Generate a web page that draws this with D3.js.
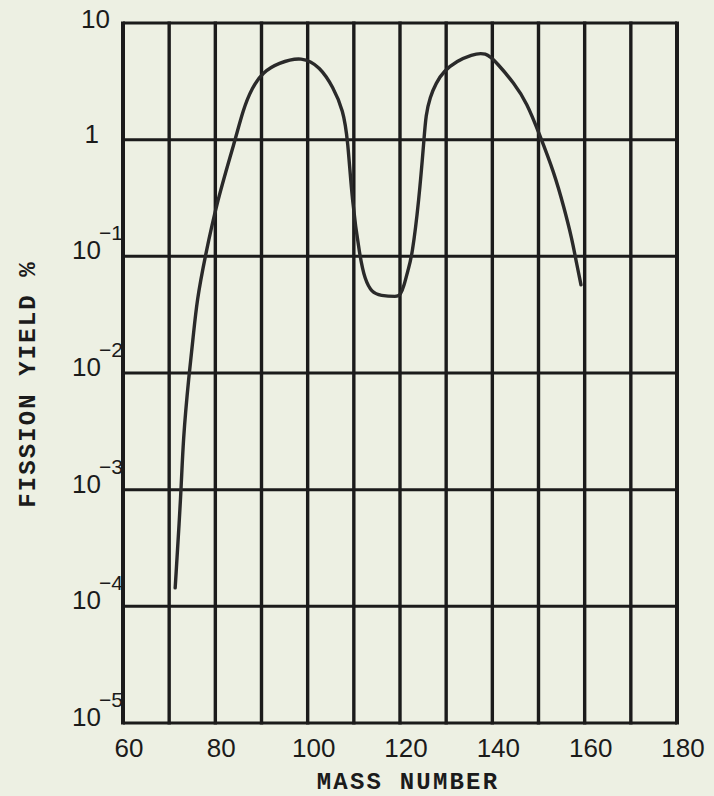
<!DOCTYPE html>
<html>
<head>
<meta charset="utf-8">
<script src="https://cdn.jsdelivr.net/npm/d3@7"></script>
<style>
  body { margin: 0; background: #edf0e3; }
  svg { display: block; }
</style>
</head>
<body>
<div id="container"></div>
<script>
/* DATA */
const massNumber = [71.3, 72.6, 73.0, 74.3, 75.2, 76.0, 77.8, 80.4, 84.3, 86.0, 87.9, 90.3, 93.6, 98.8,
  102.7, 105.5, 107.7, 108.7, 109.6, 111.3, 112.4, 113.9, 115.7, 119.4, 120.0, 120.9, 121.7,
  122.6, 124.1, 125.2, 125.6, 126.5, 127.8, 129.5, 132.4, 135.4, 138.6,
  141.0, 144.7, 147.5, 150.1, 153.4, 155.5, 157.3, 158.1, 159.2];
const fissionYield = [1.44e-4, 9.6e-4, 2.67e-3, 9.8e-3, 0.020, 0.042, 0.10, 0.30, 0.99, 1.80, 2.77, 3.80, 4.54, 5.2,
  4.2, 2.83, 1.79, 1.0, 0.30, 0.099, 0.063, 0.049, 0.046, 0.045, 0.046, 0.056, 0.076,
  0.099, 0.30, 1.0, 1.63, 2.32, 3.06, 3.88, 4.73, 5.35, 5.65,
  4.54, 3.06, 2.06, 1.14, 0.52, 0.265, 0.138, 0.093, 0.057];

const xGridValues = [60, 70, 80, 90, 100, 110, 120, 130, 140, 150, 160, 170, 180];
const xTickLabels = [60, 80, 100, 120, 140, 160, 180];
const yTickValues = [10, 1, 0.1, 0.01, 0.001, 0.0001, 0.00001];
const yTickBase = ["10", "1", "10", "10", "10", "10", "10"];
const yTickExp = ["", "", "\u22121", "\u22122", "\u22123", "\u22124", "\u22125"];

/* CONSTANTS */
const width = 714, height = 796;
const margin = {top: 23, right: 37, bottom: 73, left: 123};
const ink = "#1b1b1b";

/* SCALES */
const xScale = d3.scaleLinear()
  .domain([60, 180])
  .range([margin.left, width - margin.right]);

const yScale = d3.scaleLog()
  .domain([1e-5, 10])
  .range([height - margin.bottom, margin.top]);

/* SVG */
const svg = d3.select("#container")
  .append("svg")
    .attr("width", width)
    .attr("height", height);

svg.append("rect")
  .attr("width", width).attr("height", height)
  .attr("fill", "#edf0e3");

// horizontal grid (decades)
svg.append("g")
  .selectAll("line")
  .data(yTickValues)
  .join("line")
    .attr("x1", xScale(60)).attr("x2", xScale(180))
    .attr("y1", d => yScale(d)).attr("y2", d => yScale(d))
    .attr("stroke", ink).attr("stroke-width", 3);

// vertical grid
svg.append("g")
  .selectAll("line")
  .data(xGridValues)
  .join("line")
    .attr("x1", d => xScale(d)).attr("x2", d => xScale(d))
    .attr("y1", yScale(10) - 1.5).attr("y2", yScale(1e-5) + 1.5)
    .attr("stroke", ink)
    .attr("stroke-width", d => (d === 60 || d === 180) ? 4 : 3.4);

// x tick labels
svg.append("g")
  .selectAll("text")
  .data(xTickLabels)
  .join("text")
    .attr("x", d => xScale(d) + 6)
    .attr("y", yScale(1e-5) + 34)
    .attr("text-anchor", "middle")
    .attr("font-family", "'Liberation Sans', Arial, sans-serif")
    .attr("font-size", 26)
    .attr("fill", ink)
    .text(d => d);

// y tick labels with superscripts
const yLab = svg.append("g")
  .selectAll("g")
  .data(yTickValues)
  .join("g")
    .attr("transform", d => `translate(0,${yScale(d)})`);

yLab.append("text")
  .attr("x", (d, i) => i === 0 ? 110 : (i === 1 ? 99 : 101))
  .attr("y", (d, i) => i === 0 ? 5 : 3)
  .attr("text-anchor", "end")
  .attr("font-family", "'Liberation Sans', Arial, sans-serif")
  .attr("font-size", 26)
  .attr("fill", ink)
  .text((d, i) => yTickBase[i]);

yLab.append("text")
  .attr("x", 99)
  .attr("y", -16)
  .attr("font-family", "'Liberation Sans', Arial, sans-serif")
  .attr("font-size", 21)
  .attr("fill", ink)
  .text((d, i) => yTickExp[i]);

// curve
const line = d3.line()
  .x(d => xScale(d[0]))
  .y(d => yScale(d[1]))
  .curve(d3.curveBasis);

svg.append("path")
  .datum(massNumber.map((m, i) => [m, fissionYield[i]]))
  .attr("d", line)
  .attr("fill", "none")
  .attr("stroke", "#2a2a2a")
  .attr("stroke-width", 3.4)
  .attr("stroke-linecap", "round")
  .attr("stroke-linejoin", "round");

// axis titles
svg.append("text")
  .attr("x", 408)
  .attr("y", 789)
  .attr("text-anchor", "middle")
  .attr("font-family", "'Liberation Mono', 'DejaVu Sans Mono', monospace")
  .attr("font-weight", "bold")
  .attr("font-size", 24)
  .attr("letter-spacing", 2.2)
  .attr("fill", ink)
  .text("MASS NUMBER");

svg.append("text")
  .attr("transform", "translate(35,384) rotate(-90)")
  .attr("text-anchor", "middle")
  .attr("font-family", "'Liberation Mono', 'DejaVu Sans Mono', monospace")
  .attr("font-weight", "bold")
  .attr("font-size", 24)
  .attr("letter-spacing", 2.1)
  .attr("fill", ink)
  .text("FISSION YIELD %");
</script>
</body>
</html>
